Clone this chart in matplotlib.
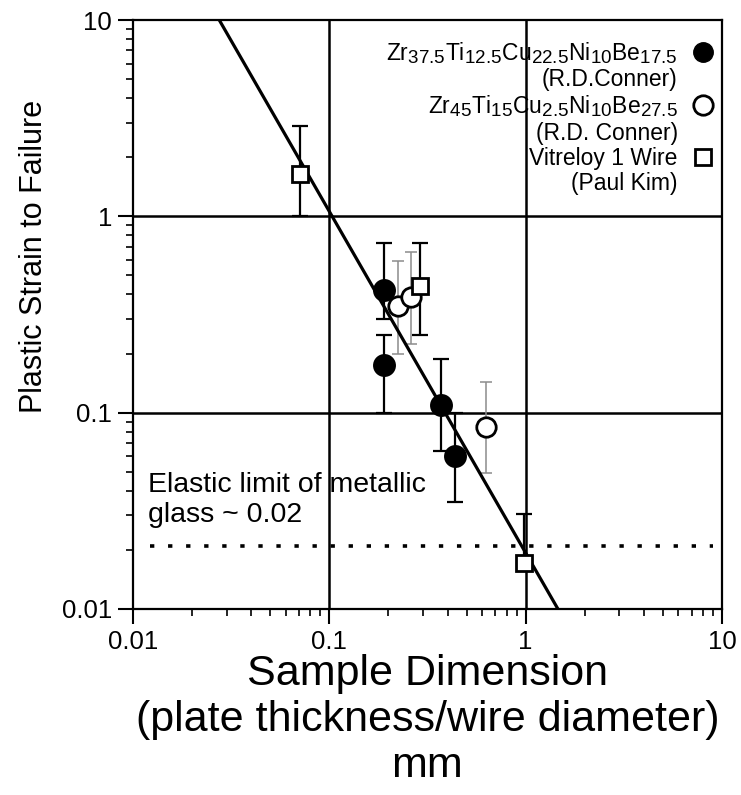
import matplotlib
matplotlib.use("Agg")
import matplotlib.pyplot as plt
from matplotlib.lines import Line2D
import numpy as np
import matplotlib._mathtext as _mt

# larger subscripts, as in the reference typesetting
_mt.SHRINK_FACTOR = 0.82

plt.rcParams['font.family'] = ['Liberation Sans', 'DejaVu Sans']
plt.rcParams['mathtext.fontset'] = 'custom'
plt.rcParams['mathtext.rm'] = 'Liberation Sans'
plt.rcParams['mathtext.it'] = 'Liberation Sans:italic'
plt.rcParams['mathtext.default'] = 'regular'

# ---- data ----
filled_x = [0.19, 0.19, 0.37, 0.435]
filled_y = [0.42, 0.175, 0.11, 0.060]
filled_lo = [0.30, 0.10, 0.064, 0.035]
filled_hi = [0.73, 0.25, 0.187, 0.10]

open_x = [0.225, 0.262, 0.625]
open_y = [0.35, 0.39, 0.085]
open_lo = [0.20, 0.223, 0.049]
open_hi = [0.59, 0.66, 0.143]

square_x = [0.071, 0.288, 0.98]
square_y = [1.65, 0.443, 0.0171]
square_lo = [1.0, 0.25, 0.0171]
square_hi = [2.9, 0.73, 0.0305]

fit_x = [0.0275, 1.46]
fit_y = [10, 0.01]

elastic_limit = 0.021
elastic_x = [0.0122, 9.0]

grid_x = [0.1, 1]
grid_y = [0.1, 1]

ticks = [0.01, 0.1, 1, 10]
tick_labels = ["0.01", "0.1", "1", "10"]

labels = [
    "Zr$_{37.5}$Ti$_{12.5}$Cu$_{22.5}$Ni$_{10}$Be$_{17.5}$",
    "(R.D.Conner)",
    "Zr$_{45}$Ti$_{15}$Cu$_{2.5}$Ni$_{10}$Be$_{27.5}$",
    "(R.D. Conner)",
    "Vitreloy 1 Wire",
    "(Paul Kim)",
]

def yerr(y, lo, hi):
    y = np.asarray(y); lo = np.asarray(lo); hi = np.asarray(hi)
    return np.vstack([y - lo, hi - y])

fig = plt.figure(figsize=(7.41, 7.95), dpi=100)
ax = fig.add_axes([133/741, 1-609/795, 589/741, 589/795])
ax.set_xscale('log')
ax.set_yscale('log')
ax.set_xlim(0.01, 10)
ax.set_ylim(0.01, 10)

for gx in grid_x:
    ax.axvline(gx, color='black', lw=1.8, zorder=1)
for gy in grid_y:
    ax.axhline(gy, color='black', lw=1.8, zorder=1)

ax.hlines(elastic_limit, elastic_x[0], elastic_x[1], colors='black', lw=2.6,
          linestyles=(0, (1.2, 3.8)), zorder=2)

ax.plot(fit_x, fit_y, color='black', lw=2.3, zorder=3)

# error bars
ax.errorbar(open_x, open_y, yerr=yerr(open_y, open_lo, open_hi), fmt='none',
            ecolor='0.55', elinewidth=1.1, capsize=4.5, capthick=1.1, zorder=2)
ax.errorbar(filled_x, filled_y, yerr=yerr(filled_y, filled_lo, filled_hi), fmt='none',
            ecolor='black', elinewidth=1.6, capsize=5.5, capthick=1.6, zorder=2)
ax.errorbar(square_x, square_y, yerr=yerr(square_y, square_lo, square_hi), fmt='none',
            ecolor='black', elinewidth=1.6, capsize=5.5, capthick=1.6, zorder=2)

# markers
ax.plot(filled_x, filled_y, 'o', ms=15, mfc='black', mec='black', mew=1.5, ls='none', zorder=4)
ax.plot(open_x, open_y, 'o', ms=14, mfc='white', mec='black', mew=2.0, ls='none', zorder=4)
ax.plot(square_x, square_y, 's', ms=12, mfc='white', mec='black', mew=2.0, ls='none', zorder=4)

# axes styling
for s in ax.spines.values():
    s.set_linewidth(1.6)
ax.set_xticks(ticks)
ax.set_xticklabels(tick_labels)
ax.set_yticks(ticks)
ax.set_yticklabels(tick_labels)
ax.tick_params(which='major', direction='out', length=11, width=1.5, labelsize=18.5, pad=4)
ax.tick_params(which='minor', direction='out', length=5, width=1.2)
ax.tick_params(which='both', top=False, right=False)

ax.set_ylabel("Plastic Strain to Failure", fontsize=22)
ax.yaxis.set_label_coords(-0.143, 0.598)
ax.set_xlabel("Sample Dimension\n(plate thickness/wire diameter)\nmm", fontsize=31,
              linespacing=1.2, va='top')
ax.xaxis.set_label_coords(0.5, -0.0764)

ax.text(0.0255, 0.2326, "Elastic limit of metallic\nglass ~ 0.02", transform=ax.transAxes,
        ha='left', va='top', fontsize=20.5, linespacing=1.2)

# legend
handles = [
    Line2D([], [], marker='o', ls='none', ms=14, mfc='black', mec='black'),
    Line2D([], [], ls='none'),
    Line2D([], [], marker='o', ls='none', ms=14, mfc='white', mec='black', mew=2.0),
    Line2D([], [], ls='none'),
    Line2D([], [], marker='s', ls='none', ms=12, mfc='white', mec='black', mew=2.0),
    Line2D([], [], ls='none'),
]
leg = ax.legend(handles, labels, loc='upper right', bbox_to_anchor=(0.988, 0.966),
                frameon=False, markerfirst=False, fontsize=16.5, handlelength=1.0,
                handletextpad=0.62, borderpad=0, borderaxespad=0, labelspacing=0.1)

fig.savefig("out.png", dpi=100)
